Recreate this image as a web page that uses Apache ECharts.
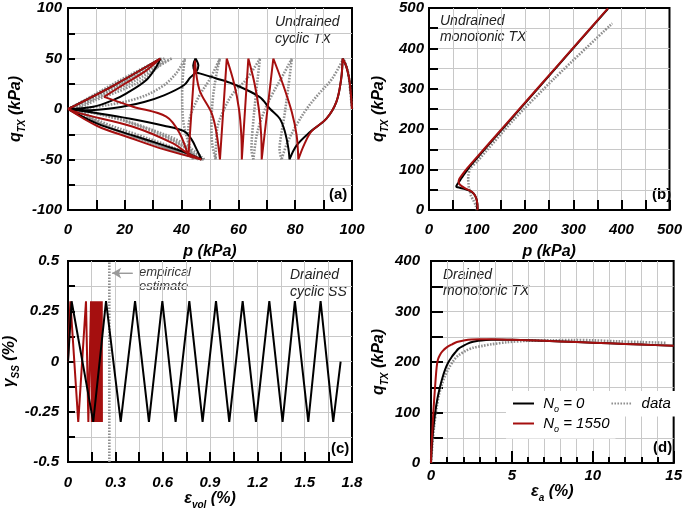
<!DOCTYPE html>
<html><head><meta charset="utf-8">
<script src="https://cdn.jsdelivr.net/npm/echarts@6/dist/echarts.min.js"></script>
<style>html,body{margin:0;padding:0;background:#fff}#c{width:685px;height:511px}</style>
</head><body><div id="c"></div>
<script>
// ---------- Panel (a): undrained cyclic TX, strokes of [p, q] ----------
const aBlack = [
  [[100,0],[99.6,15],[99,30],[98,42],[96.7,50]],
  [[96.7,50],[96.2,30],[94.5,7],[91,-9.6],[85.2,-22.8],[80.5,-36],[78,-50]],
  [[78,-50],[77.6,-39],[76.4,-22.8],[74.6,-9.6],[71.1,0.3],[67.4,12],[58,25],[52,30.5],[46.3,35.3],[44.7,37],[44.1,43],[44.9,50]],
  [[44.9,50],[45.9,43],[45.2,37],[43,31],[40.8,23.5],[33.8,13.5],[26.8,7],[16.2,1],[5.6,-1.3],[0,0]],
  [[0,0],[10.3,-14.5],[22,-25.4],[33.8,-36],[40.8,-42.6],[47,-50]],
  [[47,-50],[46.2,-45],[45.3,-40],[43.5,-30],[40.8,-22],[33.8,-16.5],[22,-9.6],[10,-4],[0,0]],
  [[0,0],[8.9,2.3],[16,9],[20.6,15.5],[27.6,28.7],[31.1,41.9],[32.5,50]],
  [[32.5,50],[16.2,23.5],[0,0]]
];
const aRed = [
  [[100,0],[99.6,15],[99,30],[98,42],[96.7,50]],
  [[96.7,50],[96.2,30],[94.5,7],[91,-9.6],[85.8,-22],[83.2,-35],[81.1,-50]],
  [[81.1,-50],[80.5,-26],[78.8,-3],[75.8,23.5],[72.3,50]],
  [[72.3,50],[68.2,-50]],
  [[68.2,-50],[68,-25],[67.2,0],[65.7,25],[63.5,50]],
  [[63.5,50],[61.2,-50]],
  [[61.2,-50],[61,-25],[60.2,0],[58.5,25],[55.9,50]],
  [[55.9,50],[53.5,-50]],
  [[53.5,-50],[52.3,-24],[50.6,-4.3],[46.3,18.8],[44.7,48]],
  [[44.7,48],[42.4,-47]],
  [[42.4,-47],[39.3,-24],[34.6,-7.6],[22.9,2.3],[12.7,12]],
  [[12.7,12],[20,25],[27,37],[32.5,50]],
  [[32.5,50],[16.2,23.5],[0,0]],
  [[0,0],[10.3,-16.8],[22,-28.7],[33.8,-40],[47,-50]],
  [[47,-50],[42.2,-44],[37,-34],[22.9,-17.5],[4.2,-4.3],[0,0]]
];
const aData = [
  [[100,0],[99.3,20],[98.5,38],[97,50]],
  [[97,50],[93,30],[88,14],[84,0],[80,-18],[77,-35],[75.2,-50]],
  [[75.2,-50],[74.5,-40],[74.8,-30],[76,-10],[77.5,20],[78.8,50]],
  [[78.8,50],[76,35],[72,15],[69,-3],[66.5,-25],[65.3,-50]],
  [[65.3,-50],[64.6,-40],[65,-20],[66.2,15],[67.6,50]],
  [[67.6,50],[63,30],[58,15],[55,0],[52.5,-20],[52,-50]],
  [[52,-50],[50.8,-35],[50.5,-15],[51,10],[52.3,35],[53.5,50]],
  [[53.5,50],[50,30],[46,12],[43,-8],[42.3,-25],[44,-50]],
  [[44,-50],[42.5,-35],[40.5,-10],[40.2,15],[40.5,35],[41.2,50]],
  [[41.2,50],[38,35],[33,22],[25,11],[14,4],[3,0]],
  [[3,0],[12,-13],[24,-25],[35,-36],[43,-45],[46,-50]],
  [[46,-50],[41,-38],[32,-25],[20,-12],[8,-3],[1,0]],
  [[1,0],[10,11],[20,23],[28,35],[33.5,45],[36.5,50]],
  [[36.5,50],[28,38],[18,24],[8,10],[1,1]],
  [[1,1],[10,-13],[22,-26],[34,-38],[44,-48],[48,-50]],
  [[48,-50],[40,-33],[28,-19],[16,-8],[3,-1]],
  [[3,-1],[10,9],[20,20],[28,32],[34,50]],
  [[34,50],[22,33],[12,18],[2,2.5]],
  [[2,2.5],[12,-15],[24,-28],[36,-40],[47,-50]],
  [[47,-50],[38,-32],[26,-17],[12,-6],[2,0]],
  [[2,0],[12,14],[22,30],[33,50]],
  [[33,50],[18,28],[6,9],[0,0]]
];

// ---------- Panel (b): undrained monotonic TX, [p, q] ----------
const bBlack = [[100,0],[101,4],[99.2,24.7],[95,37],[88.9,45],[76,51.5],[64,55],[57.5,57],[56.7,58.6],[58,62],[61.5,68],[66,76],[71,85],[77,95],[85,108],[167,220],[270,360],[372,498]];
const bRed = [[100,0],[101.2,4],[99.2,24.7],[95,37],[88.9,45.2],[75.3,53.5],[65,61.7],[61.5,69.9],[63,77],[68.4,86.4],[75,97],[85,111],[167,222],[270,361],[372,499]];
const bData = [[100,0],[97,12],[92,24.7],[87,36],[85.3,45],[83,55],[82,65.5],[81.5,76],[82,86],[85.3,102.5],[100,120],[175,222],[260,325],[381,462]];

// ---------- Panel (c): drained cyclic SS, [eps_vol, gamma] ----------
const cBlack = [[0,0],[0.023,0.3],[0.16,-0.3],[0.241,0.3],[0.334,-0.3],[0.425,0.3],[0.513,-0.3],[0.598,0.3],[0.682,-0.3],[0.769,0.3],[0.853,-0.3],[0.938,0.3],[1.022,-0.3],[1.107,0.3],[1.191,-0.3],[1.276,0.3],[1.36,-0.3],[1.438,0.3],[1.523,-0.3],[1.601,0.3],[1.681,-0.3],[1.728,0]];
const cRed = [[0,0],[0.015,0.3],[0.065,-0.3],[0.114,0.3],[0.129,-0.3],[0.146,0.3],[0.151,-0.3],[0.156,0.3],[0.16,-0.3],[0.164,0.3],[0.168,-0.3],[0.172,0.3],[0.176,-0.3],[0.18,0.3],[0.184,-0.3],[0.187,0.3],[0.19,-0.3],[0.193,0.3],[0.196,-0.3],[0.199,0.3],[0.202,-0.3],[0.205,0.3],[0.208,-0.3],[0.21,0.3],[0.212,-0.3],[0.214,0.3],[0.215,-0.3]];
const cEstimate = [[0.262,-0.5],[0.262,0.5]];
const cArrow = [[0.41,0.44],[0.28,0.44]];

// ---------- Panel (d): drained monotonic TX, [eps_a, q] ----------
const dBlack = [[0,0],[0.05,30],[0.12,60],[0.25,98],[0.4,128],[0.56,151],[0.7,168],[0.86,184],[1.05,198],[1.28,210],[1.5,219],[1.69,226],[2,232],[2.3,237],[2.6,240],[2.92,242],[3.4,243.5],[3.74,244],[5,244],[7,242],[9,239.5],[11,237],[13,234.5],[15,232]];
const dRed = [[0,0],[0.02,25],[0.08,60],[0.14,98],[0.25,150],[0.35,190],[0.43,205],[0.55,214],[0.7,221],[0.97,229],[1.3,235],[1.6,239.5],[2.1,243],[2.5,244.5],[3,245],[3.74,245],[5,244],[7,242],[9,239.5],[11,237],[13,234.5],[15,232]];
const dData = [[0,0],[0.08,35],[0.2,75],[0.35,110],[0.5,136],[0.7,158],[0.86,172],[1.1,188],[1.4,203],[1.69,213],[2.2,223],[2.6,228],[3.2,232],[3.74,235],[4.67,239],[6,242],[7.5,243],[8.8,243.5],[10,243],[11.5,241],[13,239.5],[14.5,238]];

// join strokes with gaps so each stroke is smoothed on its own
function strokes(list){
  const out = [];
  list.forEach(function(s, k){ if (k) out.push(['-','-']); s.forEach(function(p){ out.push(p); }); });
  return out;
}

const F = '"Liberation Sans", Arial, sans-serif';
const RED = '#a50f0f', GREY = '#8f8f8f', GRID = '#c8c8c8';
const labelStyle = {color:'#000', fontFamily:F, fontStyle:'italic', fontWeight:'bold', fontSize:15};
const nameRich = {
  i:{color:'#000', fontFamily:F, fontStyle:'italic', fontWeight:'bold', fontSize:16, lineHeight:22},
  s:{color:'#000', fontFamily:F, fontStyle:'italic', fontWeight:'bold', fontSize:10, lineHeight:22, verticalAlign:'bottom'}
};
function axis(o){
  return {
    type:'value', gridIndex:o.g, min:o.min, max:o.max, interval:o.iv,
    name:o.name, nameLocation:'middle', nameGap:o.gap, nameTextStyle:{rich:nameRich},
    axisLine:{show:true, onZero:false, lineStyle:{color:'#000', width:2}},
    axisTick:{show:true, inside:true, length:o.tl, lineStyle:{color:'#000', width:2}},
    minorTick:{show:true, splitNumber:o.ms, length:o.ml, lineStyle:{color:'#000', width:2}},
    splitLine:{show:true, showMinLine:false, showMaxLine:false, lineStyle:{color:GRID, width:1}},
    minorSplitLine:{show:true, lineStyle:{color:GRID, width:1}},
    axisLabel:Object.assign({margin:o.lm, showMinLabel:true, showMaxLabel:true, hideOverlap:false}, labelStyle)
  };
}
function line(name, data, xi, style, z, extra){
  return Object.assign({type:'line', name:name, data:data, xAxisIndex:xi, yAxisIndex:xi,
    symbol:'none', showSymbol:false, clip:true, silent:true, z:z, connectNulls:false,
    lineStyle:style, itemStyle:{color:style.color}}, extra||{});
}
const sBlack = {color:'#000', width:2};
const sRed = {color:RED, width:2};
const sGrey = {color:GREY, width:2.6, type:[1.6,1.4]};
const legRich = {rich:{
  i:{fontFamily:F, fontStyle:'italic', fontSize:15, color:'#000', lineHeight:20},
  s:{fontFamily:F, fontStyle:'italic', fontSize:9, color:'#000', lineHeight:20, verticalAlign:'bottom'}}};

const gridBase = {show:true, borderColor:'#000', borderWidth:2, backgroundColor:'rgba(0,0,0,0)'};
const option = {
  animation:false,
  backgroundColor:'#fff',
  grid:[
    Object.assign({left:68, top:8, width:284, height:202}, gridBase),
    Object.assign({left:429, top:8, width:244, height:202}, gridBase),
    Object.assign({left:68, top:261, width:284, height:202}, gridBase),
    Object.assign({left:431, top:261, width:243, height:202}, gridBase)
  ],
  xAxis:[
    axis({g:0, min:0, max:100, iv:20, ms:2, tl:10, ml:10, lm:12, gap:31, name:'{i|p (kPa)}'}),
    axis({g:1, min:0, max:500, iv:100, ms:2, tl:10, ml:10, lm:12, gap:31, name:'{i|p (kPa)}'}),
    axis({g:2, min:0, max:1.8, iv:0.3, ms:2, tl:10, ml:10, lm:13, gap:23, name:'{i|ε}{s|vol}{i| (%)}'}),
    axis({g:3, min:0, max:15, iv:5, ms:5, tl:12, ml:6, lm:5, gap:18, name:'{i|ε}{s|a}{i| (%)}'})
  ],
  yAxis:[
    axis({g:0, min:-100, max:100, iv:50, ms:2, tl:7, ml:7, lm:6, gap:41, name:'{i|q}{s|TX}{i| (kPa)}'}),
    axis({g:1, min:0, max:500, iv:100, ms:2, tl:9, ml:9, lm:5, gap:39, name:'{i|q}{s|TX}{i| (kPa)}'}),
    axis({g:2, min:-0.5, max:0.5, iv:0.25, ms:2, tl:7, ml:7, lm:9, gap:44, name:'{i|γ}{s|SS}{i| (%)}'}),
    axis({g:3, min:0, max:400, iv:100, ms:2, tl:12, ml:12, lm:11, gap:41, name:'{i|q}{s|TX}{i| (kPa)}'})
  ],
  legend:[
    {left:506, top:391, padding:[5,6,3,6], itemGap:26, itemWidth:21, itemHeight:12, backgroundColor:'#fff',
     data:['N0','data'], selectedMode:false, itemStyle:{opacity:0}, lineStyle:{inactiveWidth:0},
     formatter:function(n){return n==='N0' ? '{i| N}{s|o}{i| = 0}' : '{i| data}';},
     textStyle:legRich},
    {left:506, top:413, padding:[3,6,5,6], itemWidth:21, itemHeight:12, backgroundColor:'#fff',
     data:['N1550'], selectedMode:false, itemStyle:{opacity:0},
     formatter:function(){return '{i| N}{s|o}{i| = 1550}';},
     textStyle:legRich}
  ],
  series:[
    line('data', strokes(aData), 0, sGrey, 2, {smooth:0.35}),
    line('N0', strokes(aBlack), 0, sBlack, 3, {smooth:0.35}),
    line('N1550', strokes(aRed), 0, sRed, 4, {smooth:0.35}),
    line('data', bData, 1, sGrey, 2, {smooth:0.25}),
    line('N0', bBlack, 1, sBlack, 3, {smooth:0.25}),
    line('N1550', bRed, 1, sRed, 4, {smooth:0.25}),
    line('est', cEstimate, 2, sGrey, 2),
    line('arrow', cArrow, 2, {color:'#9a9a9a', width:1}, 2, {
      markLine:{silent:true, symbol:['none','arrow'], symbolSize:[8,9], animation:false,
        lineStyle:{color:'#9a9a9a', width:1, type:'solid'}, label:{show:false},
        data:[[{coord:cArrow[0]},{coord:cArrow[1]}]]}}),
    line('N1550', cRed, 2, sRed, 3),
    line('N0', cBlack, 2, sBlack, 4),
    line('data', dData, 3, sGrey, 2, {smooth:0.3}),
    line('N0', dBlack, 3, sBlack, 3, {smooth:0.3}),
    line('N1550', dRed, 3, sRed, 4, {smooth:0.3})
  ],
  graphic:[
    {type:'text', left:275, top:14, style:{text:'Undrained\ncyclic TX', font:'italic 14px '+F, fill:'#222', lineHeight:17}},
    {type:'text', left:440, top:13, style:{text:'Undrained\nmonotonic TX', font:'italic 14px '+F, fill:'#222', lineHeight:16}},
    {type:'text', left:290, top:267, style:{text:'Drained\ncyclic SS', font:'italic 14px '+F, fill:'#222', lineHeight:17}},
    {type:'text', left:443, top:267, style:{text:'Drained\nmonotonic TX', font:'italic 14px '+F, fill:'#222', lineHeight:16}},
    {type:'text', left:139, top:265, style:{text:'empirical\nestimate', font:'italic 13px '+F, fill:'#333', lineHeight:14}},
    {type:'text', left:329, top:187, style:{text:'(a)', font:'bold 15px '+F, fill:'#000'}},
    {type:'text', left:652, top:187, style:{text:'(b)', font:'bold 15px '+F, fill:'#000'}},
    {type:'text', left:331, top:441, style:{text:'(c)', font:'bold 15px '+F, fill:'#000'}},
    {type:'text', left:653, top:440, style:{text:'(d)', font:'bold 15px '+F, fill:'#000'}}
  ]
};
const chart = echarts.init(document.getElementById('c'), null, {renderer:'canvas'});
chart.setOption(option);
</script></body></html>
